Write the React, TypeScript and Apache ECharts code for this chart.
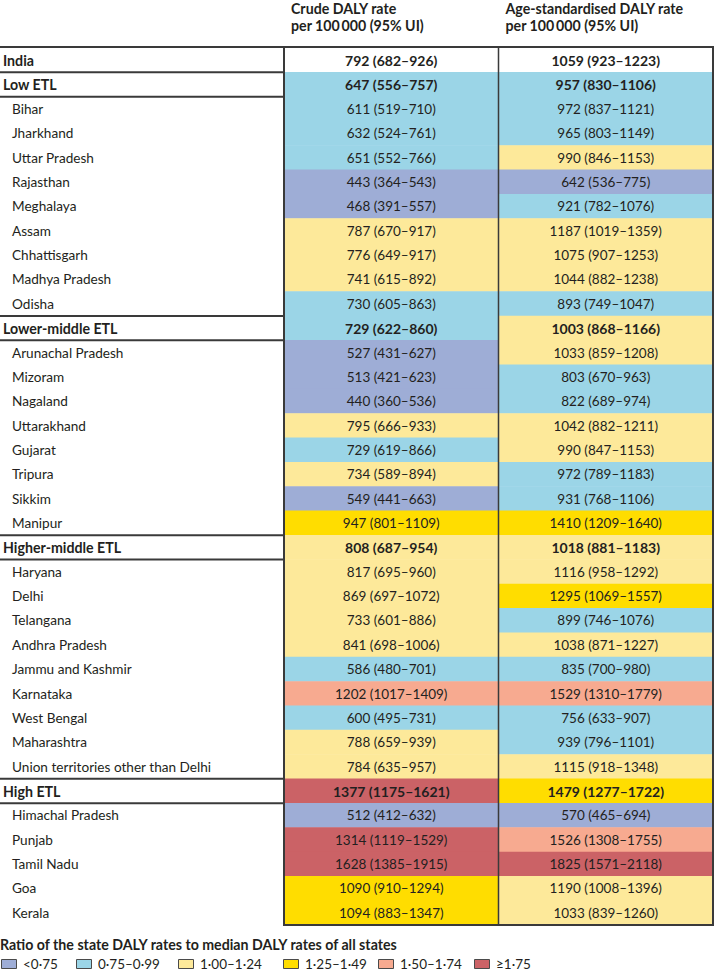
import React, { useEffect, useRef } from "react";
import * as echarts from "echarts";

// ---- data ----
const rowNames = [
  "India", "Low ETL", "Bihar", "Jharkhand", "Uttar Pradesh", "Rajasthan", "Meghalaya", "Assam",
  "Chhattisgarh", "Madhya Pradesh", "Odisha", "Lower-middle ETL", "Arunachal Pradesh", "Mizoram",
  "Nagaland", "Uttarakhand", "Gujarat", "Tripura", "Sikkim", "Manipur", "Higher-middle ETL",
  "Haryana", "Delhi", "Telangana", "Andhra Pradesh", "Jammu and Kashmir", "Karnataka",
  "West Bengal", "Maharashtra", "Union territories other than Delhi", "High ETL",
  "Himachal Pradesh", "Punjab", "Tamil Nadu", "Goa", "Kerala",
];
// t = total, g = ETL group, s = state
const rowKinds = [
  "t", "g", "s", "s", "s", "s", "s", "s", "s", "s", "s", "g", "s", "s", "s", "s", "s", "s", "s", "s",
  "g", "s", "s", "s", "s", "s", "s", "s", "s", "s", "g", "s", "s", "s", "s", "s",
];
const columns = ["Crude DALY rate", "Age-standardised DALY rate"];
const columnHeaders = [
  "Crude DALY rate\nper 100\u2009000 (95% UI)",
  "Age-standardised DALY rate\nper 100\u2009000 (95% UI)",
];

const crudeRate = [792, 647, 611, 632, 651, 443, 468, 787, 776, 741, 730, 729, 527, 513, 440, 795, 729, 734, 549, 947, 808, 817, 869, 733, 841, 586, 1202, 600, 788, 784, 1377, 512, 1314, 1628, 1090, 1094];
const crudeLower = [682, 556, 519, 524, 552, 364, 391, 670, 649, 615, 605, 622, 431, 421, 360, 666, 619, 589, 441, 801, 687, 695, 697, 601, 698, 480, 1017, 495, 659, 635, 1175, 412, 1119, 1385, 910, 883];
const crudeUpper = [926, 757, 710, 761, 766, 543, 557, 917, 917, 892, 863, 860, 627, 623, 536, 933, 866, 894, 663, 1109, 954, 960, 1072, 886, 1006, 701, 1409, 731, 939, 957, 1621, 632, 1529, 1915, 1294, 1347];
const ageRate = [1059, 957, 972, 965, 990, 642, 921, 1187, 1075, 1044, 893, 1003, 1033, 803, 822, 1042, 990, 972, 931, 1410, 1018, 1116, 1295, 899, 1038, 835, 1529, 756, 939, 1115, 1479, 570, 1526, 1825, 1190, 1033];
const ageLower = [923, 830, 837, 803, 846, 536, 782, 1019, 907, 882, 749, 868, 859, 670, 689, 882, 847, 789, 768, 1209, 881, 958, 1069, 746, 871, 700, 1310, 633, 796, 918, 1277, 465, 1308, 1571, 1008, 839];
const ageUpper = [1223, 1106, 1121, 1149, 1153, 775, 1076, 1359, 1253, 1238, 1047, 1166, 1208, 963, 974, 1211, 1153, 1183, 1106, 1640, 1183, 1292, 1557, 1076, 1227, 980, 1779, 907, 1101, 1348, 1722, 694, 1755, 2118, 1396, 1260];

// ratio class: -1 none, 0 <0.75, 1 0.75-0.99, 2 1.00-1.24, 3 1.25-1.49, 4 1.50-1.74, 5 >=1.75
const crudeClass = [-1, 1, 1, 1, 1, 0, 0, 2, 2, 2, 1, 1, 0, 0, 0, 2, 1, 2, 0, 3, 2, 2, 2, 2, 2, 1, 4, 1, 2, 2, 5, 0, 5, 5, 3, 3];
const ageClass = [-1, 1, 1, 1, 2, 0, 1, 2, 2, 2, 1, 2, 2, 1, 1, 2, 2, 1, 1, 3, 2, 2, 3, 1, 2, 1, 4, 1, 1, 2, 3, 0, 4, 5, 2, 2];

const legendTitle = "Ratio of the state DALY rates to median DALY rates of all states";
const legendLabels = ["<0\u00b775", "0\u00b775\u20130\u00b799", "1\u00b700\u20131\u00b724", "1\u00b725\u20131\u00b749", "1\u00b750\u20131\u00b774", "\u22651\u00b775"];

// ---- styles / layout ----
const classColors = ["#9EADD6", "#9BD5E7", "#FDE99A", "#FFDD00", "#F7AA90", "#CB6266"];
const FONT = "Lato, 'Noto Sans', sans-serif";
const TEXT = "#231f20";
const LINE = "#3a3a3a";
const NAME_FS = 13.6;
const BOLD_FS = 14.2;
const NUM_FS = 13.5;
const NUM_BOLD_FS = 14;
const W = 715;
const GRID_LEFT = 284;
const GRID_RIGHT_X = 713;
const GRID_TOP = 48;
const GRID_BOTTOM_Y = 925;
const legendBoxX = [1, 76, 178, 283, 378, 474];

function buildOption() {
  const fmt = (v: number, lo: number, hi: number) => `${v} (${lo}\u2013${hi})`;
  const data: any[] = [];
  rowNames.forEach((_, i) => {
    const bold = rowKinds[i] !== "s";
    const lab = { fontWeight: bold ? "bold" : "normal", fontSize: bold ? NUM_BOLD_FS : NUM_FS };
    data.push({ value: [0, i, crudeClass[i]], text: fmt(crudeRate[i], crudeLower[i], crudeUpper[i]), label: lab });
    data.push({ value: [1, i, ageClass[i]], text: fmt(ageRate[i], ageLower[i], ageUpper[i]), label: lab });
  });

  const rowH = (GRID_BOTTOM_Y - GRID_TOP) / rowNames.length;
  const graphics: any[] = [];
  const line = (x1: number, y1: number, x2: number, y2: number, lw: number) =>
    graphics.push({ type: "line", z: 100, shape: { x1, y1, x2, y2 }, style: { stroke: LINE, lineWidth: lw } });

  // table frame
  line(0, GRID_TOP - 1, GRID_RIGHT_X + 1, GRID_TOP - 1, 2);
  line(GRID_LEFT, GRID_TOP - 1, GRID_LEFT, GRID_BOTTOM_Y + 1, 2);
  line(GRID_RIGHT_X, GRID_TOP - 1, GRID_RIGHT_X, GRID_BOTTOM_Y + 1, 2);
  line((GRID_LEFT + GRID_RIGHT_X) / 2, GRID_TOP - 1, (GRID_LEFT + GRID_RIGHT_X) / 2, GRID_BOTTOM_Y + 1, 1.5);
  line(GRID_LEFT, GRID_BOTTOM_Y, GRID_RIGHT_X + 1, GRID_BOTTOM_Y, 2);
  // separators around total / group rows in the name column
  const seps = new Set<number>();
  rowKinds.forEach((k, i) => {
    if (k !== "s") {
      if (i > 0) seps.add(i);
      seps.add(i + 1);
    }
  });
  seps.forEach((b) => {
    const y = GRID_TOP + b * rowH;
    line(0, y, GRID_LEFT, y, 2);
  });

  // column headers
  const colW = (GRID_RIGHT_X - GRID_LEFT) / columns.length;
  columnHeaders.forEach((h, c) => {
    graphics.push({
      type: "text",
      x: GRID_LEFT + c * colW + 7,
      y: 0,
      style: { text: h, fontSize: BOLD_FS, fontWeight: "bold", fontFamily: FONT, fill: TEXT, lineHeight: 17, align: "left", verticalAlign: "top" },
    });
  });

  // legend
  graphics.push({
    type: "text",
    x: 0,
    y: 944,
    style: { text: legendTitle, fontSize: BOLD_FS, fontWeight: "bold", fontFamily: FONT, fill: TEXT, align: "left", verticalAlign: "middle" },
  });
  legendLabels.forEach((lab, k) => {
    const x = legendBoxX[k];
    graphics.push({
      type: "rect",
      shape: { x: x + 0.5, y: 959.5, width: 15, height: 9 },
      style: { fill: classColors[k], stroke: "#4a4a4a", lineWidth: 1 },
    });
    graphics.push({
      type: "text",
      x: x + 22,
      y: 964,
      style: { text: lab, fontSize: NUM_FS, fontFamily: FONT, fill: TEXT, align: "left", verticalAlign: "middle" },
    });
  });

  return {
    animation: false,
    backgroundColor: "#ffffff",
    grid: { left: GRID_LEFT, right: W - GRID_RIGHT_X, top: GRID_TOP, bottom: 972 - GRID_BOTTOM_Y, containLabel: false },
    xAxis: { type: "category", data: columns, show: false },
    yAxis: {
      type: "category",
      data: rowNames,
      inverse: true,
      axisLine: { show: false },
      axisTick: { show: false },
      splitLine: { show: false },
      axisLabel: {
        interval: 0,
        align: "left",
        margin: GRID_LEFT - 3,
        fontSize: NAME_FS,
        fontFamily: FONT,
        color: TEXT,
        formatter: (v: string, i: number) => (rowKinds[i] === "s" ? `{s|${v}}` : `{g|${v}}`),
        rich: {
          s: { fontSize: NAME_FS, fontFamily: FONT, color: TEXT, padding: [0, 0, 0, 9] },
          g: { fontSize: BOLD_FS, fontFamily: FONT, color: TEXT, fontWeight: "bold" },
        },
      },
    },
    visualMap: {
      type: "piecewise",
      show: false,
      dimension: 2,
      seriesIndex: 0,
      pieces: [{ value: -1, color: "#ffffff" }].concat(classColors.map((c, k) => ({ value: k, color: c }))),
    },
    series: [
      {
        type: "heatmap",
        data,
        itemStyle: { borderWidth: 0 },
        emphasis: { disabled: true },
        label: {
          show: true,
          fontSize: NUM_FS,
          fontFamily: FONT,
          color: TEXT,
          formatter: (p: any) => p.data.text,
        },
      },
    ],
    graphic: graphics,
  };
}

export default function App() {
  const ref = useRef<HTMLDivElement | null>(null);
  useEffect(() => {
    if (!ref.current) return;
    const chart = echarts.init(ref.current, null, { renderer: "svg" });
    chart.setOption(buildOption() as any);
    return () => chart.dispose();
  }, []);
  return <div ref={ref} style={{ position: "fixed", left: 0, top: 0, width: W, height: 972, background: "#fff" }} />;
}
